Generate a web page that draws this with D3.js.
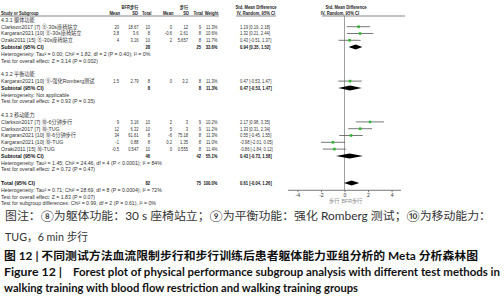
<!DOCTYPE html>
<html><head><meta charset="utf-8">
<script src="https://cdn.jsdelivr.net/npm/d3@7"></script>
<style>body{margin:0;background:#fff}svg{display:block}</style>
</head><body><svg id="c" width="504" height="299"></svg>
<script>
// ---------- data ----------
const groupNames = ["4.3.1 躯体功能", "4.3.2 平衡功能", "4.3.3 移动能力"];
const studyLabels = [
  "Clarkson2017 [7] ⑧-30s座椅站立",
  "Kargaran2021 [10] ⑧-30s座椅站立",
  "Ozaki2011 [15] ⑧-30s座椅站立",
  "Kargaran2021 [10] ⑨-强化Romberg测试",
  "Clarkson2017 [7] ⑩-6分钟步行",
  "Clarkson2017 [7] ⑩-TUG",
  "Kargaran2021 [10] ⑩-6分钟步行",
  "Kargaran2021 [10] ⑩-TUG",
  "Ozaki2011 [15] ⑩-TUG"
];
const studyGroup = [0, 0, 0, 1, 2, 2, 2, 2, 2];
const bfrMean = ["20", "3.8", "4", "1.5", "9", "12", "34", "-1", "-0.5"];
const bfrSD   = ["18.67", "3.6", "3.16", "2.79", "3.16", "6.32", "61.61", "0.88", "0.547"];
const bfrN    = [10, 8, 10, 8, 10, 10, 8, 8, 10];
const ctlMean = ["0", "-0.6", "2", "0", "2", "5", "-6", "0.2", "0"];
const ctlSD   = ["12", "2.61", "5.657", "3.2", "3", "3", "75.18", "1.35", "0.555"];
const ctlN    = [9, 8, 8, 8, 9, 9, 8, 8, 8];
const weights = [11.3, 10.6, 11.7, 11.3, 10.2, 11.2, 11.3, 11.0, 11.4];
const smd     = [1.19, 1.32, 0.43, 0.47, 2.17, 1.33, 0.55, -0.98, -0.86];
const ciLow   = [0.19, 0.21, -0.51, -0.53, 0.98, 0.31, -0.45, -2.01, -1.84];
const ciHigh  = [2.18, 2.44, 1.37, 1.47, 3.35, 2.34, 1.55, 0.05, 0.12];

const subBfrN   = [28, 8, 46];
const subCtlN   = [25, 8, 42];
const subWeight = [33.6, 11.3, 55.1];
const subSmd    = [0.94, 0.47, 0.43];
const subLow    = [0.35, -0.53, -0.73];
const subHigh   = [1.52, 1.47, 1.58];
const subHetero = [
  "Heterogeneity: Tau² = 0.00; Chi² = 1.82, df = 2 (P = 0.40); I² = 0%",
  "Heterogeneity: Not applicable",
  "Heterogeneity: Tau² = 1.45; Chi² = 24.46, df = 4 (P < 0.0001); I² = 84%"
];
const subTest = [
  "Test for overall effect: Z = 3.14 (P = 0.002)",
  "Test for overall effect: Z = 0.93 (P = 0.35)",
  "Test for overall effect: Z = 0.72 (P = 0.47)"
];
const totalBfrN = 82, totalCtlN = 75, totalWeight = 100.0;
const totalSmd = 0.61, totalLow = -0.04, totalHigh = 1.26;
const totalNotes = [
  "Heterogeneity: Tau² = 0.71; Chi² = 28.69, df = 8 (P = 0.0004); I² = 72%",
  "Test for overall effect: Z = 1.83 (P = 0.07)",
  "Test for subgroup differences: Chi² = 0.99, df = 2 (P = 0.61), I² = 0%"
];
const axisTicks = [-4, -2, 0, 2, 4];
const favourLeft = "步行", favourRight = "BFR步行";
const captionLines = [
  "图注：⑧为躯体功能：30 s 座椅站立；⑨为平衡功能：强化 Romberg 测试；⑩为移动能力：",
  "TUG，6 min 步行"
];
const titleCN = "图 12 | 不同测试方法血流限制步行和步行训练后患者躯体能力亚组分析的 Meta 分析森林图";
const titleENLead = "Figure 12 |";
const titleEN = ["Forest plot of physical performance subgroup analysis with different test methods in",
                 "walking training with blood flow restriction and walking training groups"];

// ---------- drawing ----------
const svg = d3.select("#c");
svg.append("rect").attr("width", 504).attr("height", 299).attr("fill", "#fff");
const FONT = "'Liberation Sans', Arial, 'Noto Sans CJK SC', sans-serif";
const fs = 5.2;
const rowY = k => 26.7 + 6.8 * k;
const x = d3.scaleLinear().domain([-4.8, 4.8]).range([288, 401]);
const col = {bm: 119, bs: 138.5, bn: 150, cm: 172, cs: 188, cn: 201, w: 217.5, ci: 240};
const fmt2 = v => v.toFixed(2);
const ciTxt = (m, l, h) => `${fmt2(m)} [${fmt2(l)}, ${fmt2(h)}]`;
const g = svg.append("g");

function txt(s, xx, yc, anchor = "start", bold = false, size = fs, fill = "#333", sx = 1) {
  return g.append("text").attr("transform", `translate(${xx},${yc + size * 0.35}) scale(${sx},1)`)
    .attr("text-anchor", anchor).attr("font-family", FONT).attr("font-size", size)
    .attr("font-weight", bold ? "bold" : "normal").attr("fill", fill).text(s);
}
const NS = 0.8; // narrow numeric columns
const HS = 0.85;

// headers
const hs = 4.9;
txt("BFR步行", 130, 7, "middle", true, hs, "#222", HS);
txt("步行", 184, 7, "middle", true, hs, "#222", HS);
txt("Std. Mean Difference", 256, 7, "middle", true, hs, "#222", HS);
txt("Std. Mean Difference", 346, 7, "middle", true, hs, "#222", HS);
txt("Study or Subgroup", 1, 13.3, "start", true, hs, "#222", HS);
txt("Mean", 120, 13.3, "end", true, hs, "#222", HS);
txt("SD", 138, 13.3, "end", true, hs, "#222", HS);
txt("Total", 151.5, 13.3, "end", true, hs, "#222", HS);
txt("Mean", 173.5, 13.3, "end", true, hs, "#222", HS);
txt("SD", 189, 13.3, "end", true, hs, "#222", HS);
txt("Total", 203, 13.3, "end", true, hs, "#222", HS);
txt("Weight", 218.5, 13.3, "end", true, hs, "#222", HS);
txt("IV, Random, 95% CI", 256, 13.3, "middle", true, hs, "#222", HS);
txt("IV, Random, 95% CI", 340, 13.3, "middle", true, hs, "#222", HS);
[[0, 219], [236, 276], [322, 405]].forEach(([a, b]) =>
  g.append("line").attr("x1", a).attr("x2", b).attr("y1", 16).attr("y2", 16)
    .attr("stroke", "#555").attr("stroke-width", 0.7));

// zero line
g.append("line").attr("x1", x(0)).attr("x2", x(0)).attr("y1", 16).attr("y2", 190.3)
  .attr("stroke", "#888").attr("stroke-width", 0.8);

function diamond(m, l, h, yc) {
  g.append("path").attr("d", `M${x(l)},${yc} L${x(m)},${yc - 2.5} L${x(h)},${yc} L${x(m)},${yc + 2.5} Z`)
    .attr("fill", "#000");
}

let k = -1;
groupNames.forEach((gn, gi) => {
  txt(gn, 1, rowY(k), "start", false, fs, "#333"); k++;
  studyLabels.forEach((lab, i) => {
    if (studyGroup[i] !== gi) return;
    const yc = rowY(k);
    txt(lab, 1, yc);
    txt(bfrMean[i], col.bm, yc, "end", false, fs, "#333", NS);
    txt(bfrSD[i], col.bs, yc, "end", false, fs, "#333", NS);
    txt(String(bfrN[i]), col.bn, yc, "end", false, fs, "#333", NS);
    txt(ctlMean[i], col.cm, yc, "end", false, fs, "#333", NS);
    txt(ctlSD[i], col.cs, yc, "end", false, fs, "#333", NS);
    txt(String(ctlN[i]), col.cn, yc, "end", false, fs, "#333", NS);
    txt(weights[i].toFixed(1) + "%", col.w, yc, "end", false, fs, "#333", NS);
    txt(ciTxt(smd[i], ciLow[i], ciHigh[i]), col.ci, yc, "start", false, fs, "#333", NS);
    g.append("line").attr("x1", x(ciLow[i])).attr("x2", x(ciHigh[i]))
      .attr("y1", yc).attr("y2", yc).attr("stroke", "#555").attr("stroke-width", 0.8);
    const sz = 1.0 + weights[i] * 0.14;
    g.append("rect").attr("x", x(smd[i]) - sz / 2).attr("y", yc - sz / 2)
      .attr("width", sz).attr("height", sz).attr("fill", "#2fb52f");
    k++;
  });
  const ys = rowY(k);
  txt("Subtotal (95% CI)", 1, ys, "start", true, fs, "#111");
  txt(String(subBfrN[gi]), col.bn, ys, "end", true, fs, "#111", NS);
  txt(String(subCtlN[gi]), col.cn, ys, "end", true, fs, "#111", NS);
  txt(subWeight[gi].toFixed(1) + "%", col.w, ys, "end", true, fs, "#111", NS);
  txt(ciTxt(subSmd[gi], subLow[gi], subHigh[gi]), col.ci, ys, "start", true, fs, "#111", NS);
  diamond(subSmd[gi], subLow[gi], subHigh[gi], ys);
  k++;
  txt(subHetero[gi], 1, rowY(k)); k++;
  txt(subTest[gi], 1, rowY(k)); k++;
  k++;
});
const yt = rowY(k);
txt("Total (95% CI)", 1, yt, "start", true, fs, "#111");
txt(String(totalBfrN), col.bn, yt, "end", true, fs, "#111", NS);
txt(String(totalCtlN), col.cn, yt, "end", true, fs, "#111", NS);
txt(totalWeight.toFixed(1) + "%", col.w, yt, "end", true, fs, "#111", NS);
txt(ciTxt(totalSmd, totalLow, totalHigh), col.ci, yt, "start", true, fs, "#111", NS);
diamond(totalSmd, totalLow, totalHigh, yt);
k++;
totalNotes.forEach(n => { txt(n, 1, rowY(k)); k++; });

// axis
const axY = 190.3;
const axis = d3.axisBottom(x).tickValues(axisTicks).tickSize(2).tickPadding(1.5).tickFormat(d3.format("d"));
const ax = svg.append("g").attr("transform", `translate(0,${axY})`).call(axis);
ax.select(".domain").attr("stroke", "#555").attr("stroke-width", 0.8).attr("d", `M288,0H401`);
ax.selectAll(".tick line").attr("stroke", "#555").attr("stroke-width", 0.7);
ax.selectAll(".tick text").attr("font-family", FONT).attr("font-size", fs).attr("fill", "#333")
  .text(d => d < 0 ? "-" + Math.abs(d) : String(d));
txt(favourLeft, x(0) - 5, 201, "end", false, fs, "#888");
txt(favourRight, x(0) - 3, 201, "start", false, fs, "#888");

// caption
const CF = "Lato, 'Noto Sans CJK SC', sans-serif";
function cap(s, xx, yc, size, bold, len, fill) {
  const t = svg.append("text").attr("x", xx).attr("y", yc + size * 0.36)
    .attr("font-family", CF).attr("font-size", size).attr("font-weight", bold ? "bold" : "normal")
    .attr("fill", fill).text(s);
  if (len) t.attr("textLength", len).attr("lengthAdjust", "spacingAndGlyphs");
  return t;
}
cap(captionLines[0], 5, 216, 11, false, 486, "#333");
cap(captionLines[1], 5, 237, 11, false, 83, "#333");
cap(titleCN, 4, 256, 11, true, 474, "#111");
cap(titleENLead, 4, 272, 11, true, 58, "#111");
cap(titleEN[0], 73, 272, 11, true, 427, "#111");
cap(titleEN[1], 4, 288, 11, true, 354, "#111");
</script></body></html>
